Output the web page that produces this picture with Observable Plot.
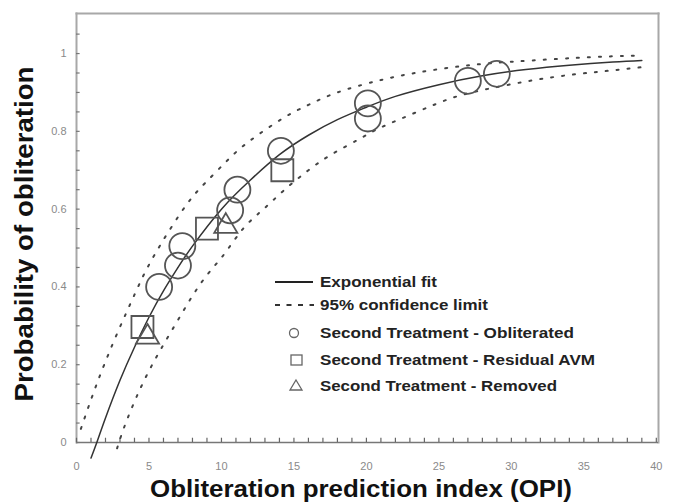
<!DOCTYPE html>
<html><head><meta charset="utf-8">
<script src="https://cdn.jsdelivr.net/npm/d3@7"></script>
<script src="https://cdn.jsdelivr.net/npm/@observablehq/plot@0.6"></script>
<style>
body{margin:0;background:#fff;font-family:"Liberation Sans",Arial,sans-serif;}
#wrap{position:relative;width:677px;height:504px;}
#legend{position:absolute;left:0;top:0;pointer-events:none;}
</style></head><body>
<div id="wrap"><div id="chart"></div><svg id="legend" width="677" height="504"></svg></div>
<script>
// Exponential fit
const fitX = [1.0, 1.4, 2, 3, 4, 5, 6, 7, 8, 10, 12, 14, 16, 18, 20, 22, 25, 28, 31, 34, 37, 39];
const fitY = [-0.04, 0.0, 0.063, 0.16, 0.245, 0.322, 0.39, 0.45, 0.505, 0.60, 0.675, 0.74, 0.79, 0.83, 0.862, 0.89, 0.92, 0.943, 0.959, 0.97, 0.978, 0.982];
// Upper 95% confidence limit
const upX = [0.3, 1.0, 1.7, 2.8, 4.0, 4.76, 5.9, 7.6, 8.9, 10.4, 11.9, 14.3, 16, 18, 21, 23.5, 26, 28.5, 31.3, 34.5, 37, 39];
const upY = [0.035, 0.11, 0.18, 0.28, 0.38, 0.44, 0.515, 0.612, 0.668, 0.725, 0.774, 0.835, 0.868, 0.9, 0.932, 0.951, 0.965, 0.975, 0.982, 0.989, 0.993, 0.995];
// Lower 95% confidence limit
const loX = [2.8, 3.5, 4.9, 6.7, 8.55, 10.1, 11.5, 12.9, 14.3, 16, 17.7, 19.5, 21, 23.5, 26, 28.5, 31.3, 34, 36.5, 39];
const loY = [-0.015, 0.06, 0.177, 0.296, 0.408, 0.48, 0.55, 0.60, 0.648, 0.70, 0.743, 0.78, 0.81, 0.85, 0.887, 0.91, 0.93, 0.945, 0.955, 0.965];
// Second treatment - obliterated
const oblX = [5.7, 7.0, 7.3, 10.6, 11.1, 14.1, 20.1, 20.1, 27.0, 29.0];
const oblY = [0.40, 0.455, 0.505, 0.597, 0.65, 0.75, 0.872, 0.833, 0.93, 0.948];
// Second treatment - residual AVM
const resX = [4.55, 9.0, 14.2];
const resY = [0.297, 0.55, 0.70];
// Second treatment - removed
const remX = [4.9, 10.3];
const remY = [0.275, 0.56];
// Ticks
const xTicks = [0, 5, 10, 15, 20, 25, 30, 35, 40];
const xTickLabels = ["0", "5", "10", "15", "20", "25", "30", "35", "40"];
const yTicks = [0, 0.2, 0.4, 0.6, 0.8, 1];
const yTickLabels = ["0", "0.2", "0.4", "0.6", "0.8", "1"];
const xMinor = d3.range(0, 41, 1);
const yMinor = d3.range(0, 22).map(i => i * 0.05);
const legendLabels = ["Exponential fit", "95% confidence limit", "Second Treatment - Obliterated", "Second Treatment - Residual AVM", "Second Treatment - Removed"];
const xTitle = "Obliteration prediction index (OPI)";
const yTitle = "Probability of obliteration";

const toPts = (xs, ys) => xs.map((x, i) => ({x, y: ys[i]}));
const fit = toPts(fitX, fitY), up = toPts(upX, upY), lo = toPts(loX, loY);
const obl = toPts(oblX, oblY), res = toPts(resX, resY), rem = toPts(remX, remY);

// custom symbols: size is area (pi*r^2)
const square = {draw(ctx, size){ const s = Math.sqrt(size / Math.PI); ctx.rect(-s, -s, 2*s, 2*s); }};
const triangle = {draw(ctx, size){ const s = Math.sqrt(size / Math.PI) * 1.1; ctx.moveTo(0, -s); ctx.lineTo(s * 1.0, s * 0.7); ctx.lineTo(-s * 1.0, s * 0.7); ctx.closePath(); }};

const chart = Plot.plot({
  width: 677, height: 504,
  marginLeft: 76, marginRight: 19, marginTop: 13, marginBottom: 62,
  x: {domain: [0, 40.15], axis: null},
  y: {domain: [0, 1.103], axis: null},
  style: {fontFamily: "'Liberation Sans', Arial, sans-serif", background: "#fff"},
  marks: [
    Plot.frame({stroke: "#a8a8a8", strokeWidth: 2, anchor: "left"}),
    Plot.frame({stroke: "#a8a8a8", strokeWidth: 2, anchor: "top"}),
    Plot.frame({stroke: "#a8a8a8", strokeWidth: 2, anchor: "right"}),
    Plot.ruleY([0], {stroke: "#777", strokeWidth: 1.5}),
    // minor ticks
    Plot.ruleX(xMinor, {x: d => d, y1: 0, y2: 0.011, stroke: "#666", strokeWidth: 1.2}),
    Plot.ruleY(yMinor, {y: d => d, x1: 0, x2: 0.25, stroke: "#777", strokeWidth: 1.2}),
    // tick labels
    Plot.text(xTicks, {x: d => d, y: 0, text: (d, i) => xTickLabels[i], dy: 24, fill: "#8a8a8a", fontSize: 11}),
    Plot.text(yTicks, {x: 0, y: d => d, text: (d, i) => yTickLabels[i], dx: -10, textAnchor: "end", fill: "#8a8a8a", fontSize: 11}),
    // curves
    Plot.line(fit, {x: "x", y: "y", curve: "natural", stroke: "#333", strokeWidth: 1.5}),
    Plot.line(up, {x: "x", y: "y", curve: "natural", stroke: "#444", strokeWidth: 2, strokeDasharray: "2,9", strokeLinecap: "round"}),
    Plot.line(lo, {x: "x", y: "y", curve: "natural", stroke: "#444", strokeWidth: 2, strokeDasharray: "2,9", strokeLinecap: "round"}),
    // markers
    Plot.dot(obl, {x: "x", y: "y", r: 13, stroke: "#555", strokeWidth: 1.8, fill: "none"}),
    Plot.dot(res, {x: "x", y: "y", r: 11, symbol: square, stroke: "#555", strokeWidth: 1.8, fill: "none"}),
    Plot.dot(rem, {x: "x", y: "y", r: 10.5, symbol: triangle, stroke: "#555", strokeWidth: 1.8, fill: "none"})
  ]
});
document.getElementById("chart").appendChild(chart);

// legend and axis titles overlay
const lg = d3.select("#legend");
const font = "'Liberation Sans', Arial, sans-serif";
const rowsY = [282, 305, 333, 360, 386];
const textW = [117, 168, 254, 275, 237];
const tx = 320;
lg.append("line").attr("x1", 275).attr("x2", 313).attr("y1", rowsY[0]).attr("y2", rowsY[0]).attr("stroke", "#222").attr("stroke-width", 1.8);
lg.append("line").attr("x1", 275).attr("x2", 314).attr("y1", rowsY[1]).attr("y2", rowsY[1]).attr("stroke", "#333").attr("stroke-width", 1.8).attr("stroke-dasharray", "5,6.5");
lg.append("circle").attr("cx", 294).attr("cy", rowsY[2]).attr("r", 4.5).attr("fill", "none").attr("stroke", "#666").attr("stroke-width", 1.3);
lg.append("rect").attr("x", 291).attr("y", rowsY[3] - 5).attr("width", 11).attr("height", 10).attr("fill", "none").attr("stroke", "#666").attr("stroke-width", 1.3);
lg.append("path").attr("d", `M296,${rowsY[4]-6} L302,${rowsY[4]+4} L290,${rowsY[4]+4} Z`).attr("fill", "none").attr("stroke", "#666").attr("stroke-width", 1.3);
legendLabels.forEach((t, i) => {
  lg.append("text").attr("x", tx).attr("y", rowsY[i]).attr("dy", "0.36em")
    .attr("font-family", font).attr("font-size", 14.5).attr("font-weight", "bold").attr("fill", "#222")
    .attr("textLength", textW[i]).attr("lengthAdjust", "spacingAndGlyphs").text(t);
});
lg.append("text").attr("x", 361).attr("y", 497).attr("text-anchor", "middle")
  .attr("font-family", font).attr("font-size", 24).attr("font-weight", "bold").attr("fill", "#111")
  .attr("textLength", 422).attr("lengthAdjust", "spacingAndGlyphs").text(xTitle);
lg.append("text").attr("transform", "translate(33,234) rotate(-90)").attr("text-anchor", "middle")
  .attr("font-family", font).attr("font-size", 26).attr("font-weight", "bold").attr("fill", "#111")
  .attr("textLength", 335).attr("lengthAdjust", "spacingAndGlyphs").text(yTitle);
</script>
</body></html>
